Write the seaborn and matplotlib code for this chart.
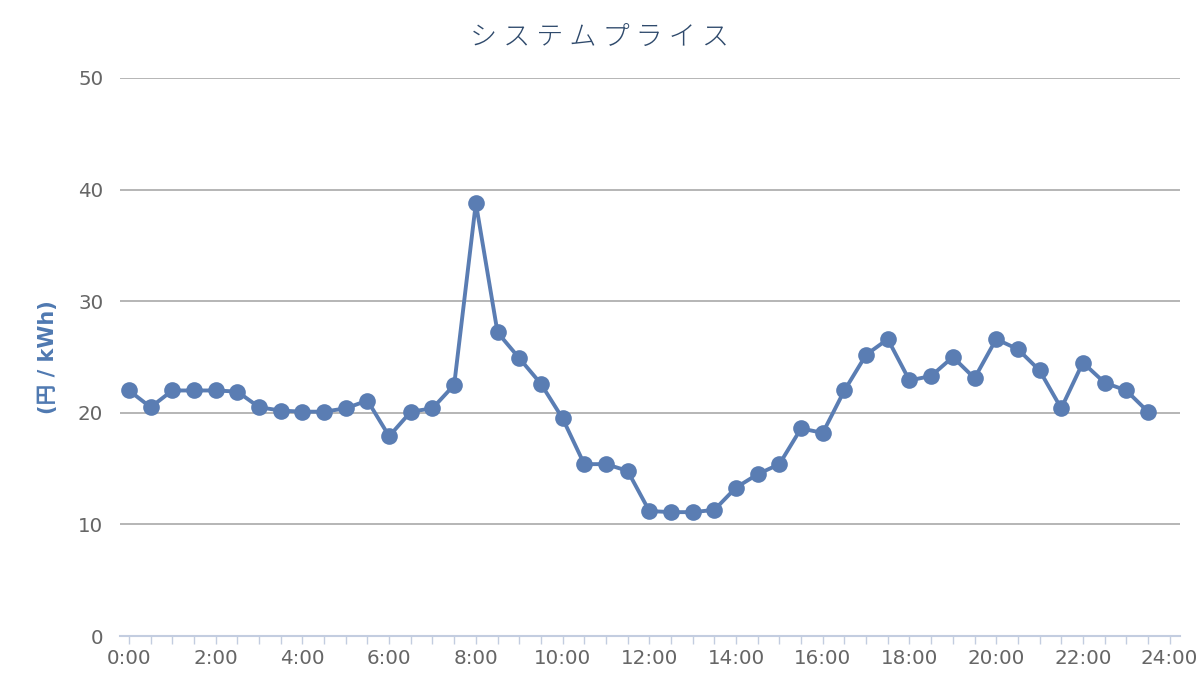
import matplotlib
matplotlib.use("Agg")
import matplotlib.pyplot as plt
import seaborn as sns
import pandas as pd
import numpy as np

times = ["0:00", "0:30", "1:00", "1:30", "2:00", "2:30", "3:00", "3:30",
         "4:00", "4:30", "5:00", "5:30", "6:00", "6:30", "7:00", "7:30",
         "8:00", "8:30", "9:00", "9:30", "10:00", "10:30", "11:00", "11:30",
         "12:00", "12:30", "13:00", "13:30", "14:00", "14:30", "15:00", "15:30",
         "16:00", "16:30", "17:00", "17:30", "18:00", "18:30", "19:00", "19:30",
         "20:00", "20:30", "21:00", "21:30", "22:00", "22:30", "23:00", "23:30"]
prices = [22.0, 20.5, 22.0, 22.0, 22.0, 21.9, 20.5, 20.2,
          20.1, 20.1, 20.4, 21.1, 17.9, 20.1, 20.4, 22.5,
          38.8, 27.2, 24.9, 22.6, 19.5, 15.4, 15.4, 14.8,
          11.2, 11.1, 11.1, 11.3, 13.3, 14.5, 15.4, 18.6,
          18.2, 22.0, 25.2, 26.6, 22.9, 23.3, 25.0, 23.1,
          26.6, 25.7, 23.8, 20.4, 24.5, 22.7, 22.0, 20.1]
xtick_labels = ["0:00", "2:00", "4:00", "6:00", "8:00", "10:00", "12:00",
                "14:00", "16:00", "18:00", "20:00", "22:00", "24:00"]
yticks = [0, 10, 20, 30, 40, 50]

title = "システムプライス"
ylabel = "(円 / kWh)"

def to_hours(s):
    h, m = s.split(":")
    return int(h) + int(m) / 60.0

df = pd.DataFrame({"hour": [to_hours(t) for t in times], "price": prices})

sns.set_theme(style="white")
plt.rcParams["font.family"] = ["DejaVu Sans", "Noto Sans CJK JP"]

fig = plt.figure(figsize=(12, 7), dpi=100)
ax = fig.add_axes([0.1, 0.0914, 0.883, 0.7972])

line_color = "#5a7db3"
sns.lineplot(data=df, x="hour", y="price", ax=ax, color=line_color,
             linewidth=2.8, marker="o", markersize=12,
             markeredgewidth=0, markerfacecolor=line_color, zorder=3)

ax.set_xlim(-0.207, 24.23)
ax.set_ylim(0, 50)
ax.set_yticks(yticks)
ax.set_yticklabels([str(v) for v in yticks])
major_x = [to_hours(t) for t in xtick_labels]
ax.set_xticks(major_x)
ax.set_xticklabels(xtick_labels)
ax.set_xticks([to_hours(t) for t in times] + [24.0], minor=True)

for v in yticks[1:]:
    ax.axhline(v, color="#b0b0b0", linewidth=1.3, zorder=1)

for side in ["top", "right", "left"]:
    ax.spines[side].set_visible(False)
ax.spines["bottom"].set_color("#c3cde0")
ax.spines["bottom"].set_linewidth(1.5)

ax.tick_params(axis="x", which="both", direction="out", length=6, width=1,
               color="#c3cde0", labelsize=14.3, labelcolor="#666666", pad=3,
               bottom=True)
ax.tick_params(axis="y", which="both", length=0, labelsize=14.3,
               labelcolor="#666666", pad=12)
ax.set_xlabel("")
ax.set_ylabel("")
ax.grid(False)

fig.text(0.5, 1 - 37 / 700, " ".join(title), ha="center", va="center",
         fontsize=19.5, color="#2f4a6c",
         family=["Noto Sans CJK JP", "DejaVu Sans"], fontweight="light")
fig.text(48 / 1200, 1 - 357 / 700, ylabel, rotation=90, ha="center",
         va="center", fontsize=15, fontweight="bold", color="#4f79b1",
         family=["DejaVu Sans", "Noto Sans CJK JP"])

fig.savefig("out.png", dpi=100, facecolor="white")
